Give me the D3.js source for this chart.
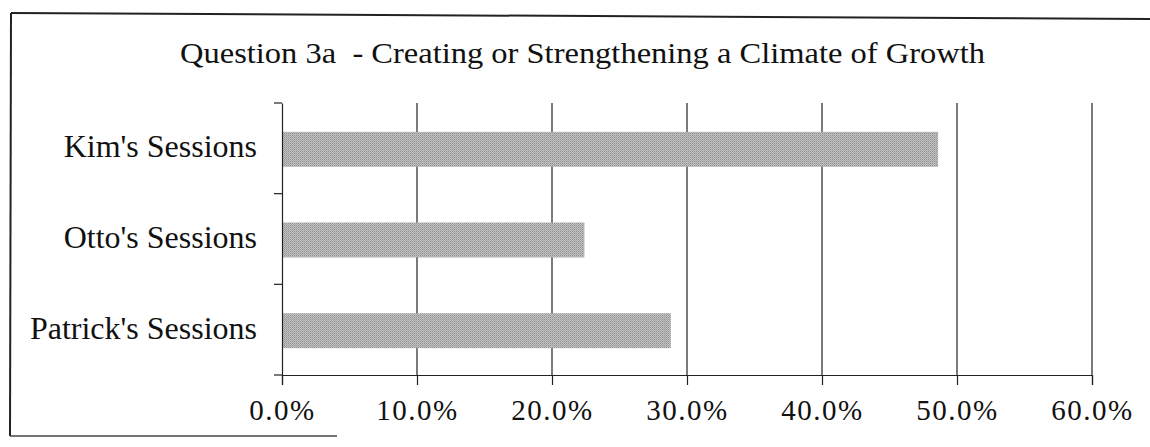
<!DOCTYPE html>
<html lang="en">
<head>
    <meta charset="UTF-8">
    <title>Question 3a</title>
    <script src="https://cdn.jsdelivr.net/npm/d3@7"></script>
    <style>
        body { margin: 0; background: #fff; }
        svg text { font-family: "Liberation Serif", "Times New Roman", Times, serif; fill: #111; }
    </style>
</head>
<body>
    <div id="chart-space"></div>

    <script>
        // data
        var title = "Question 3a  - Creating or Strengthening a Climate of Growth";
        var categories = ["Kim's Sessions", "Otto's Sessions", "Patrick's Sessions"];
        var values = [0.486, 0.224, 0.288];
        var xTicks = [0, 0.1, 0.2, 0.3, 0.4, 0.5, 0.6];

        var serif = "Liberation Serif, Times New Roman, Times, serif";

        var width = 1150;
        var height = 447;
        var margin = {top: 103, right: 58, bottom: 72, left: 282};
        var chartWidth = width - margin.left - margin.right;
        var chartHeight = height - margin.top - margin.bottom;

        var svg = d3.select("#chart-space")
            .append("svg")
            .attr("width", width)
            .attr("height", height)
            .attr("font-family", serif);

        // dithered gray fill like the scanned bars
        var pat = svg.append("defs").append("pattern")
            .attr("id", "dither")
            .attr("patternUnits", "userSpaceOnUse")
            .attr("width", 2)
            .attr("height", 2);
        pat.append("rect").attr("width", 2).attr("height", 2).attr("fill", "#c4c4c4");
        pat.append("rect").attr("width", 1).attr("height", 1).attr("fill", "#8e8e8e");
        pat.append("rect").attr("x", 1).attr("y", 1).attr("width", 1).attr("height", 1).attr("fill", "#a6a6a6");

        // frame (scanned page border)
        svg.append("line").attr("x1", 11).attr("y1", 13).attr("x2", 1150).attr("y2", 19)
            .attr("stroke", "#222").attr("stroke-width", 2);
        svg.append("line").attr("x1", 11).attr("y1", 13).attr("x2", 10).attr("y2", 436)
            .attr("stroke", "#222").attr("stroke-width", 2);
        svg.append("line").attr("x1", 10).attr("y1", 436).attr("x2", 337).attr("y2", 436)
            .attr("stroke", "#444").attr("stroke-width", 1.5);

        svg.append("text")
            .attr("x", 180)
            .attr("y", 63)
            .attr("textLength", 805)
            .attr("lengthAdjust", "spacingAndGlyphs")
            .attr("font-family", serif)
            .attr("font-size", 30)
            .attr("xml:space", "preserve")
            .text(title);

        var g = svg.append("g")
            .attr("transform", "translate(" + margin.left + "," + margin.top + ")");

        var xScale = d3.scaleLinear()
            .domain([0, 0.6])
            .range([0, chartWidth]);

        var yScale = d3.scaleBand()
            .domain(categories)
            .range([0, chartHeight])
            .padding(0);

        // vertical gridlines
        g.append("g")
            .selectAll("line")
            .data(xTicks.slice(1))
            .join("line")
            .attr("x1", function(d) { return xScale(d); })
            .attr("x2", function(d) { return xScale(d); })
            .attr("y1", 0)
            .attr("y2", chartHeight)
            .attr("stroke", "#222")
            .attr("stroke-width", 1.2);

        // bars
        var barH = yScale.bandwidth() * 0.385;
        g.selectAll("rect.bar")
            .data(values)
            .join("rect")
            .attr("class", "bar")
            .attr("x", 0)
            .attr("y", function(d, i) { return yScale(categories[i]) + (yScale.bandwidth() - barH) / 2 + 1; })
            .attr("width", function(d) { return xScale(d); })
            .attr("height", barH)
            .attr("fill", "url(#dither)");

        // x axis
        var xAxis = g.append("g")
            .attr("transform", "translate(0," + chartHeight + ")")
            .call(d3.axisBottom(xScale)
                .tickValues(xTicks)
                .tickSize(10)
                .tickPadding(14)
                .tickFormat(d3.format(".1%")))
            .attr("font-family", serif)
            .attr("font-size", 29);
        xAxis.select(".domain").attr("stroke", "#222").attr("stroke-width", 1.2);
        xAxis.selectAll(".tick line").attr("stroke", "#222").attr("stroke-width", 1.2);
        xAxis.selectAll(".tick text")
            .attr("fill", "#111")
            .attr("letter-spacing", 1.5);

        // y axis: category labels
        var yAxis = g.append("g")
            .call(d3.axisLeft(yScale).tickSize(0).tickPadding(25))
            .attr("font-family", serif)
            .attr("font-size", 32);
        yAxis.select(".domain").attr("stroke", "#222").attr("stroke-width", 1.2);
        yAxis.selectAll(".tick text")
            .attr("fill", "#111")
            .attr("dy", "0.28em");

        // y axis boundary ticks
        var bounds = categories.map(function(c) { return yScale(c); }).concat([chartHeight]);
        g.append("g")
            .selectAll("line")
            .data(bounds)
            .join("line")
            .attr("x1", -8)
            .attr("x2", 0)
            .attr("y1", function(d) { return d; })
            .attr("y2", function(d) { return d; })
            .attr("stroke", "#222")
            .attr("stroke-width", 1.2);
    </script>
</body>
</html>
